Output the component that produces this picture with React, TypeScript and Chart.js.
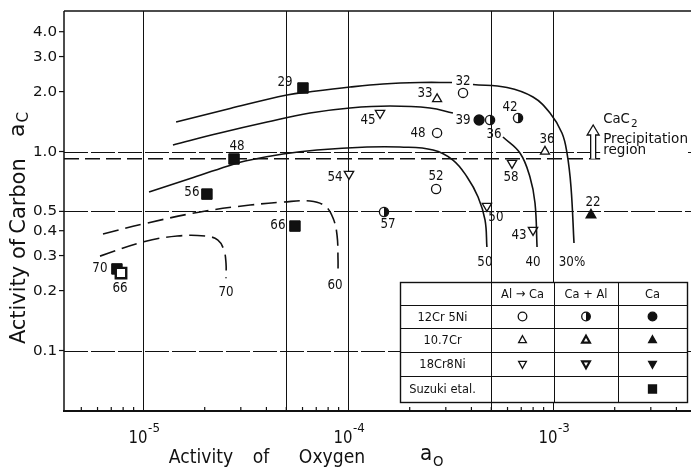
import React, { useEffect, useRef } from 'react';
import { Chart, registerables } from 'chart.js';

Chart.register(...registerables);

// ---------- axes ----------
const xMin = 4.117e-6;
const xMax = 4.712e-3;
const yMin = 0.04966;
const yMax = 5.082;

const xDecades = [1e-5, 1e-4, 1e-3];
const xDecadeExp = ['-5', '-4', '-3'];
const yTickValues = [4, 3, 2, 1, 0.5, 0.4, 0.3, 0.2, 0.1];
const yTickLabels = ['4.0', '3.0', '2.0', '1.0', '0.5', '0.4', '0.3', '0.2', '0.1'];
const xGridValues = [1e-5, 5e-5, 1e-4, 5e-4, 1e-3];
const yGridValues = [1, 0.5, 0.1];
const cac2Limit = 0.92;
const cac2ArrowX = 1.57e-3;

// ---------- measured points ----------
// 12Cr5Ni, Al -> Ca (open circle)
const o12X = [2.72e-4, 2.69e-4, 3.64e-4];
const o12Y = [1.24, 0.648, 1.97];
const o12Run = ['48', '52', '32'];
// 10.7Cr, Al -> Ca (open triangle)
const o107X = [2.72e-4, 9.14e-4];
const o107Y = [1.835, 1.0];
const o107Run = ['33', '36'];
// 18Cr8Ni, Al -> Ca (open inverted triangle)
const o188X = [1.433e-4, 1.011e-4, 6.31e-4, 4.76e-4, 7.99e-4];
const o188Y = [1.56, 0.771, 0.875, 0.532, 0.403];
const o188Run = ['45', '54', '58', '50', '43'];
// 12Cr5Ni, Ca + Al (half filled circle)
const h12X = [1.498e-4, 4.93e-4, 6.75e-4];
const h12Y = [0.497, 1.44, 1.474];
const h12Run = ['57', '36', '42'];
// 12Cr5Ni, Ca (filled circle)
const f12X = [4.36e-4];
const f12Y = [1.44];
const f12Run = ['39'];
// 10.7Cr, Ca (filled triangle)
const f107X = [1.532e-3];
const f107Y = [0.48];
const f107Run = ['22'];
// Suzuki et al. (filled square)
const szX = [6.03e-5, 2.78e-5, 2.05e-5, 5.51e-5, 7.46e-6, 7.81e-6];
const szY = [2.085, 0.917, 0.611, 0.422, 0.257, 0.245];
const szRun = ['29', '48', '56', '66', '70', '66'];

// label offsets (px from marker centre)
const o12Lab = [[-19, 0], [0, -13], [0, -12]];
const o107Lab = [[-12, -6], [2, -12]];
const o188Lab = [[-12, 7], [-14, 3], [-1, 14], [9, 11], [-14, 5]];
const h12Lab = [[4, 12], [4, 14], [-8, -11]];
const f12Lab = [[-16, 0]];
const f107Lab = [[2, -13]];
const szLab = [[-18, -6], [3, -13], [-15, -2], [-17, -1], [-17, -1], [-1, 15]];

// ---------- iso-lines ----------
const c30aX = [1.45e-5, 2.66e-5, 5.04e-5, 6.68e-5, 1.023e-4, 1.482e-4, 2.245e-4, 3.216e-4];
const c30aY = [1.407, 1.645, 1.922, 2.002, 2.109, 2.184, 2.222, 2.222];
const c30bX = [4.07e-4, 5.97e-4, 7.99e-4, 9.67e-4, 1.106e-3, 1.17e-3, 1.224e-3, 1.266e-3];
const c30bY = [2.171, 2.097, 1.878, 1.561, 1.239, 0.983, 0.663, 0.347];
const c40aX = [1.4e-5, 2.37e-5, 4.03e-5, 6.53e-5, 1.023e-4, 1.603e-4, 2.51e-4, 3.25e-4];
const c40aY = [1.078, 1.239, 1.407, 1.561, 1.654, 1.692, 1.654, 1.561];
const c40bX = [5.7e-4, 6.9e-4, 7.72e-4, 8.17e-4, 8.36e-4];
const c40bY = [1.183, 0.983, 0.745, 0.551, 0.331];
const c50X = [1.07e-5, 1.7e-5, 2.6e-5, 3.15e-5, 4.82e-5, 7.06e-5, 1.238e-4, 1.794e-4, 2.6e-4, 3.25e-4, 3.81e-4, 4.31e-4, 4.66e-4, 4.76e-4];
const c50Y = [0.626, 0.732, 0.846, 0.896, 0.971, 1.017, 1.053, 1.053, 1.017, 0.906, 0.745, 0.591, 0.453, 0.331];
const c60X = [6.38e-6, 1e-5, 1.9e-5, 3.33e-5, 4.82e-5, 6.53e-5, 7.72e-5, 8.45e-5, 8.84e-5, 8.94e-5, 8.94e-5];
const c60Y = [0.385, 0.432, 0.497, 0.538, 0.557, 0.564, 0.532, 0.463, 0.38, 0.285, 0.248];
const c70X = [6.17e-6, 1e-5, 1.47e-5, 2.01e-5, 2.32e-5, 2.48e-5, 2.54e-5, 2.54e-5];
const c70Y = [0.298, 0.351, 0.376, 0.376, 0.359, 0.32, 0.275, 0.231];
const curveNames = ['30%', '40', '50', '60', '70'];

// ---------- legend table ----------
const tableHeads = ['Al \u2192 Ca', 'Ca + Al', 'Ca'];
const tableRows = ['12Cr 5Ni', '10.7Cr', '18Cr8Ni', 'Suzuki etal.'];
const tableSyms = [
  ['oc', 'hc', 'fc'],
  ['ot', 'mt', 'ft'],
  ['od', 'md', 'fd'],
  ['', '', 'fs'],
];

const INK = '#111';
const FONT = '"DejaVu Sans", "Liberation Sans", sans-serif';

function seg(ctx: any, x1: number, y1: number, x2: number, y2: number) {
  ctx.beginPath();
  ctx.moveTo(x1, y1);
  ctx.lineTo(x2, y2);
  ctx.stroke();
}

function txt(ctx: any, s: string, x: number, y: number, size: number, o: any = {}) {
  ctx.save();
  ctx.translate(x, y);
  if (o.rot) ctx.rotate(o.rot);
  ctx.scale(o.sx ?? 0.88, 1);
  ctx.font = `${size}px ${FONT}`;
  ctx.textAlign = o.align ?? 'center';
  ctx.textBaseline = o.base ?? 'middle';
  ctx.fillStyle = INK;
  ctx.fillText(s, 0, 0);
  ctx.restore();
}

function measure(ctx: any, s: string, size: number) {
  ctx.save();
  ctx.font = `${size}px ${FONT}`;
  const w = ctx.measureText(s).width;
  ctx.restore();
  return w;
}

function sym(ctx: any, kind: string, x: number, y: number, r: number) {
  ctx.save();
  ctx.strokeStyle = INK;
  ctx.fillStyle = INK;
  ctx.lineWidth = kind[0] === 'm' ? 2.2 : 1.3;
  const shape = kind[1];
  ctx.beginPath();
  if (shape === 'c') ctx.arc(x, y, r, 0, Math.PI * 2);
  else if (shape === 't') {
    ctx.moveTo(x, y - r);
    ctx.lineTo(x + r * 0.9, y + r * 0.6);
    ctx.lineTo(x - r * 0.9, y + r * 0.6);
    ctx.closePath();
  } else if (shape === 'd') {
    ctx.moveTo(x, y + r);
    ctx.lineTo(x + r * 0.9, y - r * 0.6);
    ctx.lineTo(x - r * 0.9, y - r * 0.6);
    ctx.closePath();
  } else if (shape === 's') ctx.rect(x - r, y - r, 2 * r, 2 * r);
  if (kind[0] === 'f') ctx.fill();
  else {
    ctx.fillStyle = '#fff';
    ctx.fill();
  }
  ctx.stroke();
  if (kind === 'hc') {
    ctx.fillStyle = INK;
    ctx.beginPath();
    ctx.arc(x, y, r, -Math.PI / 2, Math.PI / 2);
    ctx.closePath();
    ctx.fill();
  }
  ctx.restore();
}

function makeHalf(r: number, lw: number) {
  const c = document.createElement('canvas');
  const s = 12;
  c.width = s;
  c.height = s;
  const g = c.getContext('2d') as any;
  const cx = s / 2, cy = s / 2;
  g.fillStyle = '#fff';
  g.beginPath();
  g.arc(cx, cy, r, 0, Math.PI * 2);
  g.fill();
  g.fillStyle = INK;
  g.beginPath();
  g.arc(cx, cy, r, -Math.PI / 2, Math.PI / 2);
  g.closePath();
  g.fill();
  g.strokeStyle = INK;
  g.lineWidth = lw;
  g.beginPath();
  g.arc(cx, cy, r, 0, Math.PI * 2);
  g.stroke();
  return c;
}

const labelSets: any[] = [
  [o12X, o12Y, o12Run, o12Lab],
  [o107X, o107Y, o107Run, o107Lab],
  [o188X, o188Y, o188Run, o188Lab],
  [h12X, h12Y, h12Run, h12Lab],
  [f12X, f12Y, f12Run, f12Lab],
  [f107X, f107Y, f107Run, f107Lab],
  [szX, szY, szRun, szLab],
];

const curveEnds: any[] = [
  [c30bX, c30bY, [-2, 19]],
  [c40bX, c40bY, [-4, 15]],
  [c50X, c50Y, [-2, 15]],
  [c60X, c60Y, [-3, 13]],
  [c70X, c70Y, [0, 14]],
];

const decor = {
  id: 'decor',
  beforeDatasetsDraw(chart: any) {
    const { ctx, chartArea: a, scales } = chart;
    const xs = scales.x, ys = scales.y;
    ctx.save();
    ctx.strokeStyle = INK;
    ctx.lineWidth = 1;
    for (const v of xGridValues) {
      const px = Math.round(xs.getPixelForValue(v)) + 0.5;
      seg(ctx, px, a.top, px, a.bottom);
    }
    ctx.setLineDash([24, 3]);
    for (const v of yGridValues) {
      const py = Math.round(ys.getPixelForValue(v)) + 0.5;
      seg(ctx, a.left, py, a.right, py);
    }
    ctx.setLineDash([15, 6]);
    ctx.lineWidth = 1.6;
    const pl = ys.getPixelForValue(cac2Limit);
    seg(ctx, a.left, pl, xs.getPixelForValue(cac2ArrowX) + 12, pl);
    ctx.restore();
  },
  afterDatasetsDraw(chart: any) {
    const { ctx, chartArea: a, scales } = chart;
    const xs = scales.x, ys = scales.y;
    ctx.save();

    // point labels
    for (const [X, Y, R, L] of labelSets) {
      X.forEach((xv: number, i: number) => {
        const px = xs.getPixelForValue(xv) + L[i][0];
        const py = ys.getPixelForValue(Y[i]) + L[i][1];
        txt(ctx, R[i], px, py, 14, { sx: 0.85 });
      });
    }
    // curve labels
    curveEnds.forEach(([X, Y, off]: any, i: number) => {
      const n = X.length - 1;
      const px = xs.getPixelForValue(X[n]) + off[0];
      const py = ys.getPixelForValue(Y[n]) + off[1];
      txt(ctx, curveNames[i], px, py, 14, { sx: 0.85 });
    });

    // CaC2 annotation
    const ax = xs.getPixelForValue(cac2ArrowX);
    const base = ys.getPixelForValue(cac2Limit);
    ctx.fillStyle = '#fff';
    ctx.fillRect(ax + 7, 106, 688 - ax - 7, 56);
    const top = 125;
    ctx.beginPath();
    ctx.moveTo(ax - 2.5, base);
    ctx.lineTo(ax - 2.5, top + 10);
    ctx.lineTo(ax - 6, top + 10);
    ctx.lineTo(ax, top);
    ctx.lineTo(ax + 6, top + 10);
    ctx.lineTo(ax + 2.5, top + 10);
    ctx.lineTo(ax + 2.5, base);
    ctx.fillStyle = '#fff';
    ctx.fill();
    ctx.strokeStyle = INK;
    ctx.lineWidth = 1.3;
    ctx.setLineDash([]);
    ctx.stroke();
    const tx = ax + 10;
    txt(ctx, 'CaC', tx, 123, 14, { align: 'left', base: 'alphabetic', sx: 0.95 });
    const wc = measure(ctx, 'CaC', 14) * 0.95;
    txt(ctx, '2', tx + wc + 1, 127, 11, { align: 'left', base: 'alphabetic', sx: 0.95 });
    txt(ctx, 'Precipitation', tx, 143, 14, { align: 'left', base: 'alphabetic', sx: 0.97 });
    txt(ctx, 'region', tx, 154, 14, { align: 'left', base: 'alphabetic', sx: 0.97 });

    // legend table
    const cols = [400, 491, 554, 618, 687];
    const rows = [282, 305, 328, 352, 376, 402];
    ctx.fillStyle = '#fff';
    ctx.fillRect(cols[0], rows[0], cols[4] - cols[0], rows[5] - rows[0]);
    ctx.strokeStyle = INK;
    ctx.lineWidth = 1;
    for (let i = 1; i < rows.length - 1; i++) seg(ctx, cols[0], rows[i] + 0.5, cols[4], rows[i] + 0.5);
    for (let j = 1; j < cols.length - 1; j++) seg(ctx, cols[j] + 0.5, rows[0], cols[j] + 0.5, rows[5]);
    ctx.lineWidth = 1.4;
    ctx.strokeRect(cols[0] + 0.5, rows[0] + 0.5, cols[4] - cols[0], rows[5] - rows[0]);
    tableHeads.forEach((h, j) => {
      txt(ctx, h, (cols[j + 1] + cols[j + 2]) / 2, (rows[0] + rows[1]) / 2 + 1, 13, { sx: 0.88 });
    });
    tableRows.forEach((r, i) => {
      const cy = (rows[i + 1] + rows[i + 2]) / 2 + 1;
      txt(ctx, r, (cols[0] + cols[1]) / 2 - 3, cy, 13, { sx: 0.88 });
      tableSyms[i].forEach((k, j) => {
        if (k) sym(ctx, k, (cols[j + 1] + cols[j + 2]) / 2, cy - 1, k[1] === 's' ? 4 : 4.3);
      });
    });

    // axes frame
    ctx.strokeStyle = INK;
    ctx.setLineDash([]);
    ctx.lineWidth = 1.5;
    seg(ctx, a.left, a.top, a.right, a.top);
    seg(ctx, a.left, a.top, a.left, a.bottom);
    ctx.lineWidth = 2;
    seg(ctx, a.left - 1, a.bottom, a.right, a.bottom);

    // y ticks & labels
    ctx.lineWidth = 1.2;
    yTickValues.forEach((v, i) => {
      const py = ys.getPixelForValue(v);
      seg(ctx, a.left - 5, py, a.left, py);
      txt(ctx, yTickLabels[i], a.left - 7, py + 0.5, 13.5, { align: 'right', sx: 1.12 });
    });

    // x minor ticks
    ctx.lineWidth = 1.2;
    for (let d = -6; d <= -3; d++) {
      for (let m = 2; m <= 9; m++) {
        const v = m * Math.pow(10, d);
        if (v <= xMin || v >= xMax) continue;
        const px = xs.getPixelForValue(v);
        seg(ctx, px, a.bottom, px, a.bottom - 4);
      }
    }
    // x decade labels
    xDecades.forEach((v, i) => {
      const px = xs.getPixelForValue(v);
      const w1 = measure(ctx, '10', 18) * 0.83;
      const w2 = measure(ctx, xDecadeExp[i], 12.5) * 0.95;
      const start = px - (w1 + w2) / 2 + 1;
      txt(ctx, '10', start, 443, 18, { align: 'left', base: 'alphabetic', sx: 0.83 });
      txt(ctx, xDecadeExp[i], start + w1 + 0.5, 432, 12.5, { align: 'left', base: 'alphabetic', sx: 0.95 });
    });

    // x title
    const tb = { base: 'alphabetic', sx: 0.86 };
    txt(ctx, 'Activity', 201, 463, 20, tb);
    txt(ctx, 'of', 261, 463, 20, tb);
    txt(ctx, 'Oxygen', 332, 463, 20, tb);
    txt(ctx, 'a', 420, 460, 21, { align: 'left', base: 'alphabetic', sx: 0.95 });
    txt(ctx, 'O', 433, 466, 14, { align: 'left', base: 'alphabetic', sx: 0.95 });

    // y title (rotated)
    const R = -Math.PI / 2;
    const rb = { base: 'alphabetic', sx: 0.95, rot: R };
    txt(ctx, 'Activity', 25, 305, 22, rb);
    txt(ctx, 'of', 25, 249, 22, rb);
    txt(ctx, 'Carbon', 25, 196, 22, rb);
    ctx.save();
    ctx.translate(24, 137);
    ctx.rotate(R);
    ctx.font = `22px ${FONT}`;
    ctx.fillStyle = INK;
    ctx.textAlign = 'left';
    ctx.textBaseline = 'alphabetic';
    ctx.fillText('a', 0, 0);
    const wa = ctx.measureText('a').width;
    ctx.font = `15px ${FONT}`;
    ctx.fillText('C', wa + 1, 4);
    ctx.restore();

    ctx.restore();
  },
};

export default function App() {
  const ref = useRef<HTMLCanvasElement>(null);
  useEffect(() => {
    const canvas = ref.current;
    if (!canvas) return;
    const half = makeHalf(4.6, 1.3);
    const pts = (X: number[], Y: number[]) => X.map((x, i) => ({ x, y: Y[i] }));
    const curve = (X: number[], Y: number[], dash: number[] = []) => ({
      data: pts(X, Y),
      showLine: true,
      pointRadius: 0,
      borderColor: INK,
      borderWidth: 1.6,
      tension: 0.4,
      borderDash: dash,
      fill: false,
    });
    const marker = (X: number[], Y: number[], style: any, radius: number, bg: any, rot = 0, bw: any = 1.3) => ({
      data: pts(X, Y),
      showLine: false,
      pointStyle: style,
      pointRadius: radius,
      pointBackgroundColor: bg,
      pointBorderColor: INK,
      pointBorderWidth: bw,
      pointRotation: rot,
    });
    const dashed = [16, 7];
    const chart = new Chart(canvas, {
      type: 'scatter',
      data: {
        datasets: [
          curve(c30aX, c30aY),
          curve(c30bX, c30bY),
          curve(c40aX, c40aY),
          curve(c40bX, c40bY),
          curve(c50X, c50Y),
          curve(c60X, c60Y, dashed),
          curve(c70X, c70Y, dashed),
          marker(o12X, o12Y, 'circle', 4.6, '#fff'),
          marker(o107X, o107Y, 'triangle', 5.2, '#fff'),
          marker(o188X, o188Y, 'triangle', 5.4, '#fff', 180),
          marker(h12X, h12Y, half, 5, '#fff'),
          marker(f12X, f12Y, 'circle', 5, INK),
          marker(f107X, f107Y, 'triangle', 5.6, INK),
          marker(szX, szY, 'rect', 7.4, szRun.map((_, i) => (i === 5 ? '#fff' : INK)), 0, szRun.map((_, i) => (i === 5 ? 2.4 : 1))),
        ] as any,
      },
      options: {
        animation: false,
        responsive: false,
        devicePixelRatio: 1,
        events: [],
        layout: { autoPadding: false, padding: { top: 11, right: 0, bottom: 0, left: 0 } },
        plugins: { legend: { display: false }, tooltip: { enabled: false } },
        scales: {
          x: {
            type: 'logarithmic',
            min: xMin,
            max: xMax,
            grid: { display: false, drawTicks: false },
            border: { display: false },
            ticks: { display: false },
            afterFit: (s: any) => { s.height = 57; },
          },
          y: {
            type: 'logarithmic',
            min: yMin,
            max: yMax,
            grid: { display: false, drawTicks: false },
            border: { display: false },
            ticks: { display: false },
            afterFit: (s: any) => { s.width = 64; },
          },
        },
      } as any,
      plugins: [decor],
    });
    return () => chart.destroy();
  }, []);
  return (
    <div style={{ position: 'fixed', left: 0, top: 0, width: 691, height: 468, background: '#fff' }}>
      <canvas ref={ref} width={691} height={468} style={{ display: 'block' }} />
    </div>
  );
}
